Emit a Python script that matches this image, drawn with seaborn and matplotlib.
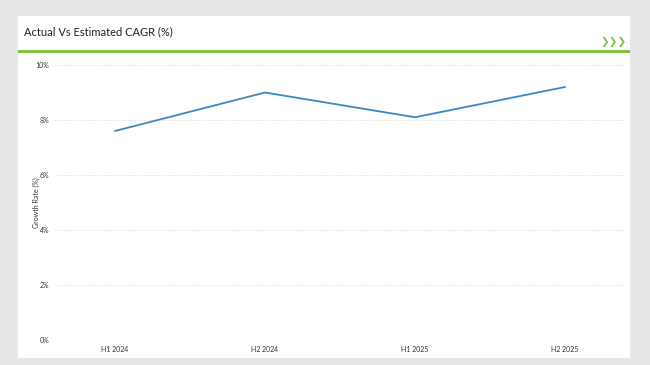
import matplotlib
matplotlib.use('Agg')

import pandas as pd
import matplotlib.pyplot as plt
import seaborn as sns
from matplotlib.patches import Rectangle
from matplotlib.ticker import FuncFormatter

# Data
periods = ['H1 2024', 'H2 2024', 'H1 2025', 'H2 2025']
growth = [7.6, 9.0, 8.1, 9.2]
y_ticks = [0, 2, 4, 6, 8, 10]

df = pd.DataFrame({'Period': periods, 'Growth': growth})

sns.set_theme(style='white')
plt.rcParams['font.family'] = ['Lato', 'DejaVu Sans']

fig = plt.figure(figsize=(6.5, 3.65), dpi=100)
fig.patch.set_facecolor('#e6e6e6')

W, H = 650, 365


def box(x0, y0, x1, y1, color):
    # pixel coords from top-left
    fig.patches.append(Rectangle((x0 / W, 1 - y1 / H), (x1 - x0) / W, (y1 - y0) / H,
                                 transform=fig.transFigure, facecolor=color,
                                 edgecolor='none', zorder=0))


box(18, 16, 630, 358, 'white')
box(18, 50, 630, 53, '#7dc242')

fig.text(24 / W, 1 - 32 / H, 'Actual Vs Estimated CAGR (%)', fontsize=8,
         color='#222222', va='center', ha='left')
fig.text(627 / W, 1 - 42 / H, '❯❯❯', fontsize=7.5, color='#7dc242',
         va='center', ha='right', fontweight='bold', family=['DejaVu Sans'])

ax = fig.add_axes([55 / W, 1 - 340 / H, 570 / W, 275 / H])
ax.set_facecolor('none')
ax.set_zorder(5)

sns.lineplot(data=df, x='Period', y='Growth', ax=ax, color='#3a88c2',
             linewidth=1.3, sort=False)

ax.set_xlim(-0.4, 3.4)
ax.set_ylim(0, 10)
ax.set_yticks(y_ticks)
ax.yaxis.set_major_formatter(FuncFormatter(lambda v, p: f'{v:.0f}%'))
ax.grid(axis='y', linestyle=':', color='#d0d0d0', linewidth=0.6)
for s in ax.spines.values():
    s.set_visible(False)
ax.tick_params(axis='both', length=0, labelsize=5, colors='#333333', pad=4)
ax.set_xlabel('')
ax.set_ylabel('Growth Rate (%)', fontsize=5, color='#333333', labelpad=-3)

plt.savefig('out.png', dpi=100, facecolor=fig.get_facecolor())
plt.close()
